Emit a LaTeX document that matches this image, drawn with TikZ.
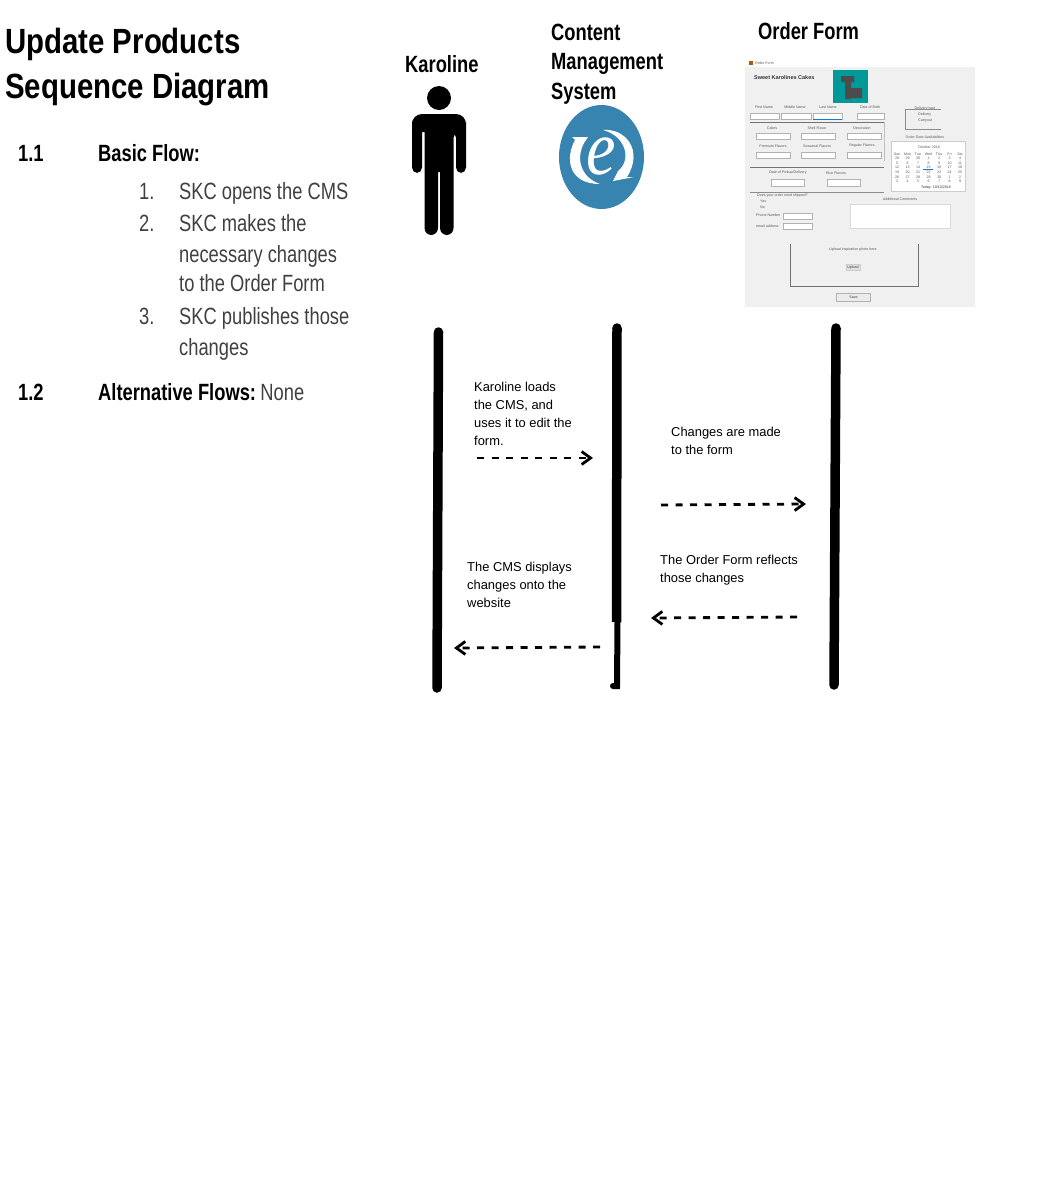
\documentclass[tikz,border=0pt]{standalone}
\usepackage{fontspec}
\setmainfont{Liberation Sans}
\newfontfamily\condfont[FakeStretch=0.84]{Liberation Sans}
\newfontfamily\narrowfont[FakeStretch=0.78]{Liberation Sans}
\newfontfamily\eefont[FakeStretch=0.85]{Liberation Serif}
\usetikzlibrary{arrows.meta,positioning}
\definecolor{cmsblue}{HTML}{3784B0}
\definecolor{formgray}{HTML}{F0F0F0}
\definecolor{listgray}{HTML}{404040}
\tikzset{
  lifeline/.style={black,line width=9.5pt,line cap=round},
  msg/.style={black,line width=2.8pt,dash pattern=on 7pt off 7.5pt,-{Straight Barb[length=9pt,width=13pt,line width=2.8pt]}},
  msgtext/.style={anchor=north west,align=left,inner sep=0pt,font=\fontsize{12.9}{18}\selectfont},
  heading/.style={anchor=base west,inner sep=0pt,font=\narrowfont\bfseries\fontsize{23.5}{29.5}\selectfont},
  flowtext/.style={anchor=base west,inner sep=0pt,text=listgray,font=\narrowfont\fontsize{23.5}{29}\selectfont},
  flowhead/.style={anchor=base west,inner sep=0pt,font=\narrowfont\bfseries\fontsize{23.5}{29}\selectfont},
  formlabel/.style={inner sep=0pt,text=black!65,font=\fontsize{3.6}{4}\selectfont},
  formfield/.style={draw=black!30,fill=white,line width=0.5pt},
  formrule/.style={draw=black!55,line width=1pt}
}
\begin{document}
\begin{tikzpicture}[x=1pt,y=-1pt]
\useasboundingbox (0,0) rectangle (1042,1184);

% title and flows
\node[anchor=base west,inner sep=0pt,font=\condfont\bfseries\fontsize{35}{44}\selectfont] (title1) at (5,53) {Update Products};
\node[anchor=base west,inner sep=0pt,font=\condfont\bfseries\fontsize{35}{44}\selectfont] (title2) at (5,98) {Sequence Diagram};
\node[flowhead] (num11) at (18,161) {1.1};
\node[flowhead] (basic) at (98,161) {Basic Flow:};
\node[flowtext] (n1) at (139,199) {1.};
\node[flowtext] (s1) at (179,199) {SKC opens the CMS};
\node[flowtext] (n2) at (139,231) {2.};
\node[flowtext] (s2a) at (179,231) {SKC makes the};
\node[flowtext] (s2b) at (179,262) {necessary changes};
\node[flowtext] (s2c) at (179,291) {to the Order Form};
\node[flowtext] (n3) at (139,324) {3.};
\node[flowtext] (s3a) at (179,324) {SKC publishes those};
\node[flowtext] (s3b) at (179,355) {changes};
\node[flowhead] (num12) at (18,400) {1.2};
\node[flowhead] (alt) at (98,400) {Alternative Flows:};
\node[flowtext,right=4pt of alt.base east,anchor=base west] (none) {None};

% actors
\node[heading] (karoline) at (405,72) {Karoline};
\node[heading] (cmsa) at (551,40) {Content};
\node[heading] (cmsb) at (551,69.5) {Management};
\node[heading] (cmsc) at (551,99) {System};
\node[heading] (orderlabel) at (758,39) {Order Form};

% person
\fill[black] (439,98) circle (12);
\fill[black,rounded corners=5.5pt] (412,173) -- (412,126) [rounded corners=10pt] -- (412,114) -- (466,114) [rounded corners=5.5pt] -- (466,126) -- (466,173) -- (456,173) -- (456,132) -- (453.5,132) [rounded corners=7pt] -- (453.5,235) -- (440,235) [sharp corners] -- (440,172) -- (438,172) [rounded corners=7pt] -- (438,235) -- (424.5,235) [sharp corners] -- (424.5,132) -- (422,132) [rounded corners=5.5pt] -- (422,173) -- cycle;

% cms logo
\fill[cmsblue] (601.5,157) ellipse (42.5 and 52);
\node[text=white,inner sep=0pt,font=\eefont\itshape\fontsize{78}{78}\selectfont] (cmse) at (601,156) {e};
\fill[white] (575,140) .. controls (565,158) and (568,184) .. (600,184) .. controls (582,178) and (575,160) .. (584,143) -- (588,137) -- (572,137) -- cycle;
\fill[white] (603,130) .. controls (625,128) and (644,150) .. (627,177) -- (634,177) -- (613,181) -- (618,171) .. controls (632,160) and (626,136) .. (603,130) -- cycle;

% order form screenshot
\fill[formgray] (745,67) rectangle (975,307);
\fill[orange!70!black] (749,61) rectangle (753,65);
\node[formlabel,anchor=west] (wintitle) at (755,63) {Order Form};
\node[inner sep=0pt,anchor=west,font=\bfseries\fontsize{5.5}{6}\selectfont,text=black!80] (cakes) at (754,78) {Sweet Karolines Cakes};
\fill[teal!80!cyan] (833,70) rectangle (868,103);
\fill[black!70] (841,76) rectangle (854,82) (845,82) rectangle (851,99) (851,88) rectangle (862,98);

\node[formlabel] (f1) at (764,107) {First Name};
\node[formlabel] (f2) at (795,107) {Middle Name};
\node[formlabel] (f3) at (828,107) {Last Name};
\node[formlabel] (f4) at (870,107) {Date of Birth};
\foreach \xa/\xb in {750/779,781/811,813/842,857/884}
  \draw[formfield] (\xa,113) rectangle (\xb,119.5);
\draw[draw=cyan!60!blue,line width=0.6pt] (813,119.5) -- (842,119.5);

\draw[formrule] (750,122) -- (884,122);
\node[formlabel] (t1) at (772,128) {Cakes};
\node[formlabel] (t2) at (817,128) {Shell Flavor};
\node[formlabel] (t3) at (862,128) {Decoration};
\foreach \xa in {756,801,847}
  \draw[formfield] (\xa,133) rectangle (\xa+34,139.5);
\node[formlabel] (t4) at (773,146) {Premium Flavors};
\node[formlabel] (t5) at (817,146) {Seasonal Flavors};
\node[formlabel] (t6) at (862,146) {Regular Flavors};
\foreach \xa in {756,801,847}
  \draw[formfield] (\xa,152) rectangle (\xa+34,158);
\draw[black!25,line width=0.5pt] (884,122) -- (884,161);

\draw[formrule] (750,167) -- (884,167);
\node[formlabel] (d1) at (788,173) {Date of Pickup/Delivery};
\node[formlabel] (d2) at (836,173) {Rice Flavors};
\draw[formfield] (771,179) rectangle (804,186);
\draw[formfield] (827,179) rectangle (860,186);
\draw[draw=black!45,line width=0.7pt] (750,192) -- (884,192);

\node[formlabel] (dt) at (925,109) {Delivery type};
\draw[draw=black!45,line width=0.5pt] (941,109) -- (905,109) -- (905,129) -- (941,129);
\node[formlabel,anchor=west] (deliv) at (918,115) {Delivery};
\node[formlabel,anchor=west] (carry) at (918,121) {Carryout};
\node[formlabel] (avail) at (925,137) {Order Date Availabilities};

% calendar
\draw[formfield,draw=black!20] (891,141) rectangle (965,191);
\node[formlabel] (month) at (929,147) {October 2018};
\foreach \day [count=\i from 0] in {Sun,Mon,Tue,Wed,Thu,Fri,Sat}
  \node[formlabel] (day\i) at (897+\i*10.5,154) {\day};
\foreach \row in {0,...,5}
  \foreach \col in {0,...,6} {
    \pgfmathtruncatemacro{\num}{mod(\row*7+\col+27,30)+1}
    \node[formlabel] (cal\row\col) at (897+\col*10.5,158.5+\row*4.6) {\num};
  }
\fill[cyan!60!blue] (923,169) rectangle (933,170);
\node[formlabel,text=black!80] (today) at (936,187.5) {Today: 10/10/2018};

\node[formlabel,anchor=west] (ship) at (757,196) {Does your order need shipped?};
\node[formlabel,anchor=west] (yes) at (760,201) {Yes};
\node[formlabel,anchor=west] (no) at (760,207) {No};
\node[formlabel,anchor=west] (phone) at (756,215) {Phone Number};
\draw[formfield] (783,213) rectangle (812,219);
\node[formlabel,anchor=west] (email) at (756,226) {email address};
\draw[formfield] (783,223) rectangle (812,229);
\node[formlabel] (comments) at (900,199) {Additional Comments};
\draw[formfield,draw=black!15] (850,204) rectangle (950,228);

\draw[draw=black!55,line width=0.8pt] (790,244) -- (790,286) -- (918,286) -- (918,244);
\node[formlabel] (upl) at (853,250) {Upload inspiration photo here};
\node[draw=black!20,fill=black!12,inner sep=1.5pt,text=black!75,font=\fontsize{3.6}{4}\selectfont] (upload) at (853,267.5) {Upload};
\node[draw=black!30,fill=black!8,minimum width=34pt,minimum height=8pt,inner sep=0pt,text=black!75,font=\fontsize{3.6}{4}\selectfont] (save) at (853.5,297) {Save};

% lifelines
\coordinate (kartop) at (438.5,332);
\coordinate (karbot) at (437,688);
\coordinate (cmstop) at (617,328);
\coordinate (cmsmid) at (616.5,622);
\coordinate (cmslow) at (617.5,622);
\coordinate (cmsbot) at (617,686);
\coordinate (ordtop) at (836,328);
\coordinate (ordbot) at (834,685);
\draw[lifeline] (kartop) -- (karbot);
\draw[lifeline,line cap=butt] (cmsmid) -- (cmstop);
\fill[black] (cmstop) circle (4.75);
\draw[black,line width=6pt,line cap=round] (cmslow) -- (cmsbot) -- ++(-4,0);
\draw[lifeline] (ordtop) -- (ordbot);

% messages
\node[msgtext] (m1) at (474,382) {Karoline loads\\the CMS, and\\uses it to edit the\\form.};
\node[msgtext] (m2) at (671,427) {Changes are made\\to the form};
\node[msgtext] (m3) at (660,555) {The Order Form reflects\\those changes};
\node[msgtext] (m4) at (467,562) {The CMS displays\\changes onto the\\website};

\coordinate (a1s) at (477,458);
\coordinate (a1e) at (593,458);
\coordinate (a2s) at (661,505);
\coordinate (a2e) at (806,504);
\coordinate (a3s) at (797,617);
\coordinate (a3e) at (651,618);
\coordinate (a4s) at (600,647);
\coordinate (a4e) at (454,648);
\draw[msg] (a1s) -- (a1e);
\draw[msg] (a2s) -- (a2e);
\draw[msg] (a3s) -- (a3e);
\draw[msg] (a4s) -- (a4e);
\end{tikzpicture}
\end{document}
